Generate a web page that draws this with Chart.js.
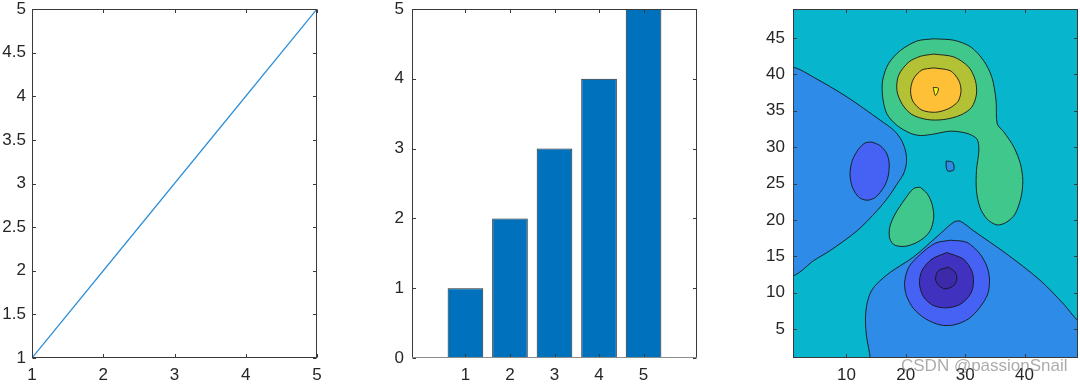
<!DOCTYPE html>
<html>
<head>
<meta charset="utf-8">
<script src="https://cdn.jsdelivr.net/npm/chart.js@4.4.1/dist/chart.umd.min.js"></script>
<style>
  html, body { margin: 0; padding: 0; background: #fff; }
  body { width: 1080px; height: 385px; position: relative; overflow: hidden; }
  .panel { position: absolute; top: 0; height: 385px; width: 330px; }
  #p1 { left: 0; }
  #p2 { left: 370px; }
  #p3 { left: 750px; }
  .mark { position: absolute; left: 901px; top: 356px; font: 17px "Liberation Sans", Arial, sans-serif;
          color: rgba(115, 115, 115, 0.6); z-index: 2; white-space: nowrap; }
</style>
</head>
<body>
<div class="panel" id="p1"><canvas id="lineChart"></canvas></div>
<div class="panel" id="p2"><canvas id="barChart"></canvas></div>
<div class="panel" id="p3"><canvas id="contourChart"></canvas></div>
<div class="mark">CSDN @passionSnail</div>
<script>
// subplot 1: plot(1:5)
const lineX = [1, 2, 3, 4, 5];
const lineY = [1, 2, 3, 4, 5];
const lineXTicks = [1, 2, 3, 4, 5];
const lineYTicks = [1, 1.5, 2, 2.5, 3, 3.5, 4, 4.5, 5];

// subplot 2: bar(1:5)
const barCats = [1, 2, 3, 4, 5];
const barVals = [1, 2, 3, 4, 5];
const barYTicks = [0, 1, 2, 3, 4, 5];

// subplot 3: contourf, outlines (x, y in data units)
const contourXTicks = [10, 20, 30, 40];
const contourYTicks = [5, 10, 15, 20, 25, 30, 35, 40, 45];

const westLow = [[-4, 41.0], [1, 41.0], [4.5, 39.6], [10.1, 36.9], [15.7, 33.7], [18.0, 32.3], [19.3, 30.9],
  [20.0, 29.3], [20.1, 27.8], [19.6, 26.3], [18.5, 24.9], [17.2, 23.3], [15.2, 21.3], [11.8, 18.5], [7.3, 15.8],
  [4.5, 14.4], [1, 12.3], [-4, 12.3], [-4, 41.0]];
const westCore = [[14.3, 30.7], [15.7, 30.2], [16.8, 29.1], [17.2, 27.7], [17.0, 25.9], [16.3, 24.5],
  [14.9, 23.1], [13.5, 22.7], [12.1, 23.1], [11.0, 24.5], [10.6, 26.3], [11.0, 28.2], [12.1, 29.8],
  [13.2, 30.6], [14.3, 30.7]];
const southLow = [[14.2, -4], [14.0, 1], [13.4, 3.9], [13.2, 6.2], [13.4, 8.2], [14.0, 9.9], [15.0, 11.1],
  [17.4, 12.8], [21.3, 14.9], [25.8, 18.1], [28.1, 19.7], [29.2, 19.8], [31.4, 18.5], [37.0, 15.3],
  [42.6, 11.7], [46.6, 8.4], [49, 6.1], [53, 3.5], [53, -4], [14.2, -4]];
const southRing = [[27.5, 17.2], [30.3, 16.9], [32.5, 15.3], [33.7, 13.5], [34.1, 11.7], [33.8, 9.8],
  [32.5, 8.0], [30.6, 6.4], [28.1, 5.55], [25.8, 5.55], [23.3, 6.4], [21.3, 7.8], [20.1, 9.6],
  [19.8, 11.4], [20.5, 13.5], [22.5, 15.3], [25.0, 16.8], [27.5, 17.2]];
const southDeep = [[26.9, 15.5], [29.7, 14.6], [31.1, 13.0], [31.4, 11.4], [30.9, 9.8], [29.2, 8.4],
  [26.9, 7.9], [24.7, 8.2], [23.0, 9.4], [22.3, 11.2], [22.7, 13.0], [24.4, 14.6], [26.9, 15.5]];
const southCore = [[27.2, 13.5], [28.3, 12.8], [28.6, 11.9], [28.1, 11.0], [26.7, 10.5], [25.5, 11.0],
  [25.0, 11.9], [25.5, 13.0], [27.2, 13.5]];
const pocketLow = [[26.8, 28.1], [27.9, 27.9], [28.1, 26.9], [27.1, 26.7], [26.8, 27.3], [26.8, 28.1]];
const northHigh = [[24.7, 44.9], [28.1, 44.7], [30.9, 43.8], [33.1, 41.9], [34.5, 39.6], [35.2, 36.4],
  [35.4, 33.2], [36.5, 32.1], [38.2, 30.0], [39.3, 27.7], [39.7, 25.4], [39.4, 23.1], [38.4, 20.8],
  [37.0, 19.7], [35.4, 19.3], [33.7, 20.1], [32.5, 21.7], [31.9, 24.0], [31.9, 26.8], [32.3, 29.5],
  [32.0, 31.1], [30.3, 31.9], [27.5, 32.2], [24.7, 31.8], [22.5, 31.6], [20.8, 31.9], [18.5, 33.0],
  [16.8, 34.6], [16.1, 36.9], [16.1, 39.2], [17.1, 41.5], [19.1, 43.3], [21.9, 44.6], [24.7, 44.9]];
const centralHigh = [[22.4, 24.5], [23.6, 23.6], [24.4, 22.2], [24.7, 20.4], [24.1, 18.5], [22.5, 17.2],
  [20.2, 16.4], [18.2, 16.5], [17.3, 17.4], [17.3, 19.0], [18.2, 20.8], [19.9, 22.9], [21.3, 24.3],
  [22.4, 24.5]];
const northRing = [[24.7, 42.8], [28.1, 42.4], [30.6, 41.0], [31.7, 39.2], [31.9, 37.3], [31.1, 35.5],
  [29.2, 34.4], [26.4, 33.8], [23.6, 33.8], [21.0, 34.5], [19.4, 35.9], [18.5, 37.8], [18.8, 39.9],
  [20.5, 41.7], [22.5, 42.5], [24.7, 42.8]];
const northPeak = [[24.7, 40.9], [27.5, 40.5], [28.9, 39.2], [29.3, 37.8], [28.8, 36.3], [27.2, 35.3],
  [25.0, 34.8], [22.7, 35.1], [21.2, 36.3], [20.8, 37.8], [21.3, 39.4], [22.7, 40.6], [24.7, 40.9]];
const northTop = [[24.6, 38.2], [25.5, 38.1], [25.0, 37.1], [24.6, 38.2]];

const contourColors = {
  bg: '#07B5CD', low1: '#2E8BE8', low2: '#4562F4', low3: '#4032BF', low4: '#3C2AAA',
  high1: '#40C88C', high2: '#B3C235', high3: '#FEC036', high4: '#F8F917'
};
// bottom to top
const contourLayers = [
  [westLow, 'low1'], [westCore, 'low2'], [southLow, 'low1'], [southRing, 'low2'], [southDeep, 'low3'],
  [southCore, 'low4'], [pocketLow, 'low1'], [northHigh, 'high1'], [centralHigh, 'high1'],
  [northRing, 'high2'], [northPeak, 'high3'], [northTop, 'high4']
];

const FONT = { family: '"Liberation Sans", Arial, sans-serif', size: 17, lineHeight: 1 };
const TEXT = '#262626';

// MATLAB style box with inward ticks on all four sides
const matlabAxes = {
  id: 'matlabAxes',
  beforeDraw(chart, args, opts) {
    if (!opts.background) return;
    const a = chart.chartArea;
    chart.ctx.save();
    chart.ctx.fillStyle = opts.background;
    chart.ctx.fillRect(a.left, a.top, a.width, a.height);
    chart.ctx.restore();
  },
  afterDatasetsDraw(chart, args, opts) {
    const { ctx, chartArea: a, scales: { x, y } } = chart;
    const L = 3.5;
    const l = Math.round(a.left) + 0.5, r = Math.round(a.right) - 0.5;
    const t = Math.round(a.top) + 0.5, b = Math.round(a.bottom) - 0.5;
    ctx.save();
    ctx.lineWidth = 1;
    ctx.strokeStyle = '#3a3a3a';
    ctx.beginPath();
    x.ticks.forEach(tk => {
      const px = Math.round(x.getPixelForValue(tk.value)) + 0.5;
      ctx.moveTo(px, b); ctx.lineTo(px, b - L);
      ctx.moveTo(px, t); ctx.lineTo(px, t + L);
    });
    y.ticks.forEach(tk => {
      const py = Math.round(y.getPixelForValue(tk.value)) + 0.5;
      ctx.moveTo(l, py); ctx.lineTo(l + L, py);
      ctx.moveTo(r, py); ctx.lineTo(r - L, py);
    });
    ctx.stroke();
    ctx.strokeRect(l, t, r - l, b - t);
    if (opts.baseline !== undefined) {
      const py = Math.round(y.getPixelForValue(opts.baseline)) - 0.5;
      ctx.strokeStyle = '#8c8c8c';
      ctx.beginPath();
      ctx.moveTo(a.left, py); ctx.lineTo(a.right, py);
      ctx.stroke();
    }
    ctx.restore();
  }
};

function axisScale(min, max, ticks, fit, pad) {
  return {
    type: 'linear', min, max, offset: false,
    afterBuildTicks: s => { s.ticks = ticks.map(v => ({ value: v })); },
    afterFit: s => {
      fit(s);
      // labels may overhang the box like in MATLAB
      s.paddingTop = s.paddingBottom = s.paddingLeft = s.paddingRight = 0;
    },
    grid: { display: false, drawTicks: false },
    border: { display: false },
    ticks: { font: FONT, color: TEXT, padding: pad, maxRotation: 0, autoSkip: false, callback: v => String(v) }
  };
}

function baseOptions(cfg) {
  return {
    responsive: true,
    maintainAspectRatio: false,
    animation: false,
    events: [],
    layout: { padding: { top: 9, right: cfg.right, left: 0, bottom: 0 } },
    plugins: { legend: { display: false }, tooltip: { enabled: false }, matlabAxes: cfg.axes || {} },
    scales: {
      x: axisScale(cfg.xMin, cfg.xMax, cfg.xTicks, s => { s.height = 27; }, 9),
      y: axisScale(cfg.yMin, cfg.yMax, cfg.yTicks, s => { s.width = cfg.yW; }, cfg.yPad)
    }
  };
}

new Chart(document.getElementById('lineChart'), {
  type: 'scatter',
  data: {
    datasets: [{
      data: lineX.map((x, i) => ({ x, y: lineY[i] })),
      showLine: true, borderColor: '#2f8fd8', borderWidth: 1.2, pointRadius: 0, fill: false
    }]
  },
  options: baseOptions({ xMin: 1, xMax: 5, yMin: 1, yMax: 5, xTicks: lineXTicks, yTicks: lineYTicks,
    yW: 32, yPad: 6, right: 13 }),
  plugins: [matlabAxes]
});

new Chart(document.getElementById('barChart'), {
  type: 'bar',
  data: {
    datasets: [{
      data: barCats.map((x, i) => ({ x, y: barVals[i] })),
      backgroundColor: '#0072BD', borderColor: '#262626', borderWidth: 1, borderSkipped: false,
      barPercentage: 0.8, categoryPercentage: 1
    }]
  },
  options: baseOptions({ xMin: -0.2, xMax: 6.2, yMin: 0, yMax: 5, xTicks: barCats, yTicks: barYTicks,
    yW: 42, yPad: 8, right: 3, axes: { baseline: 0 } }),
  plugins: [matlabAxes]
});

new Chart(document.getElementById('contourChart'), {
  type: 'scatter',
  data: {
    datasets: contourLayers.map(([pts, key], i) => ({
      data: pts.map(([x, y]) => ({ x, y })),
      showLine: true, fill: 'shape', tension: 0.3, capBezierPoints: false,
      backgroundColor: contourColors[key], borderColor: '#151515', borderWidth: 0.9,
      pointRadius: 0, order: contourLayers.length - i
    }))
  },
  options: baseOptions({ xMin: 1, xMax: 49, yMin: 1, yMax: 49, xTicks: contourXTicks, yTicks: contourYTicks,
    yW: 43, yPad: 8, right: 2, axes: { background: contourColors.bg } }),
  plugins: [matlabAxes]
});
</script>
</body>
</html>
